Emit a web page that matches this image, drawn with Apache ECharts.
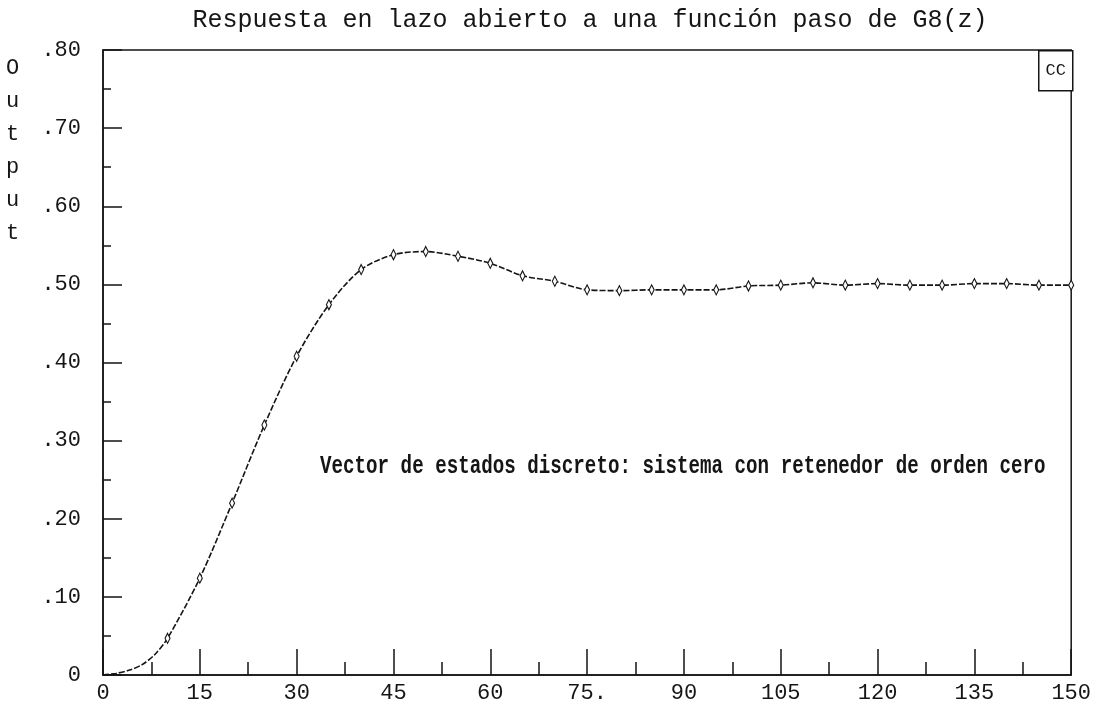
<!DOCTYPE html>
<html>
<head>
<meta charset="utf-8">
<script src="https://cdn.jsdelivr.net/npm/echarts@6/dist/echarts.min.js"></script>
<style>
  html, body { margin: 0; padding: 0; background: #fff; }
  #g8z { width: 1094px; height: 714px; }
</style>
</head>
<body>
<!-- respuesta en lazo abierto G8(z) -->
<div id="g8z"></div>
<script>
// datos
const tiempo = [0, 2, 4, 6, 8, 10, 15, 20, 25, 30, 35, 40, 45, 50, 55, 60, 65, 70, 75, 80,
  85, 90, 95, 100, 105, 110, 115, 120, 125, 130, 135, 140, 145, 150];
const salida = [0, 0.002, 0.006, 0.013, 0.026, 0.047, 0.124, 0.220, 0.320, 0.408, 0.474, 0.519,
  0.538, 0.542, 0.536, 0.527, 0.511, 0.504, 0.493, 0.492, 0.493, 0.493, 0.493, 0.498, 0.499,
  0.502, 0.499, 0.501, 0.499, 0.499, 0.501, 0.501, 0.499, 0.499];
const xTickLabels = ['0', '15', '30', '45', '60', '75.', '90', '105', '120', '135', '150'];
const yTickLabels = ['0', '.10', '.20', '.30', '.40', '.50', '.60', '.70', '.80'];

const fuente = '"Liberation Mono", "DejaVu Sans Mono", monospace';
const tinta = '#151515';

const chart = echarts.init(document.getElementById('g8z'));

const option = {
  backgroundColor: '#fff',
  animation: false,
  title: {
    text: 'Respuesta en lazo abierto a una función paso de G8(z)',
    left: 585,
    textAlign: 'center',
    top: 3,
    textStyle: { fontFamily: fuente, fontSize: 25, fontWeight: 'normal', color: tinta }
  },
  grid: {
    left: 103,
    right: 22,
    top: 50,
    bottom: 39,
    show: true,
    borderColor: tinta,
    borderWidth: 1.5
  },
  xAxis: {
    type: 'value',
    min: 0,
    max: 150,
    interval: 15,
    axisLine: { show: true, lineStyle: { color: tinta, width: 1.5 } },
    axisTick: { show: true, inside: true, length: 26, lineStyle: { color: tinta, width: 1.5 } },
    minorTick: { show: true, splitNumber: 2, length: 13, lineStyle: { color: tinta, width: 1.5 } },
    splitLine: { show: false },
    axisLabel: {
      margin: 7,
      fontFamily: fuente,
      fontSize: 22,
      color: tinta,
      formatter: (v, i) => xTickLabels[i]
    }
  },
  yAxis: {
    type: 'value',
    min: 0,
    max: 0.8,
    interval: 0.1,
    axisLine: { show: true, lineStyle: { color: tinta, width: 1.5 } },
    axisTick: { show: true, inside: true, length: 19, lineStyle: { color: tinta, width: 1.5 } },
    minorTick: { show: true, splitNumber: 2, length: 8, lineStyle: { color: tinta, width: 1.5 } },
    splitLine: { show: false },
    axisLabel: {
      margin: 22,
      fontFamily: fuente,
      fontSize: 22,
      color: tinta,
      formatter: (v, i) => yTickLabels[i]
    }
  },
  series: [
    {
      name: 'G8(z)',
      type: 'line',
      data: tiempo.map((t, i) => [t, salida[i]]),
      smooth: 0.3,
      showAllSymbol: true,
      symbol: 'diamond',
      // marcas solo cada 5 muestras
      symbolSize: (val) => (val[0] >= 10 && val[0] % 5 === 0 ? [5, 10] : 0),
      itemStyle: { color: '#fff', borderColor: tinta, borderWidth: 1.2 },
      lineStyle: { color: tinta, width: 1.6, type: [6, 2] }
    }
  ],
  graphic: [
    {
      // nombre del eje vertical
      type: 'text',
      left: 6,
      top: 52,
      style: {
        text: 'O\nu\nt\np\nu\nt',
        font: '22px ' + fuente,
        fill: tinta,
        lineHeight: 33,
        align: 'left'
      }
    },
    {
      // recuadro de leyenda
      type: 'group',
      left: 1038,
      top: 50,
      children: [
        { type: 'rect', shape: { x: 0, y: 0, width: 34, height: 40 },
          style: { fill: '#fff', stroke: tinta, lineWidth: 1.5 } },
        { type: 'text', x: 17, y: 20,
          style: { text: 'CC', font: '17px ' + fuente, fill: tinta, align: 'center', verticalAlign: 'middle' } }
      ]
    },
    {
      // texto sobreimpreso
      type: 'text',
      x: 320,
      y: 453,
      scaleX: 1.01,
      scaleY: 1.4,
      style: {
        text: 'Vector de estados discreto: sistema con retenedor de orden cero',
        font: 'bold 19px ' + fuente,
        fill: tinta
      }
    }
  ]
};

chart.setOption(option, true);
</script>
</body>
</html>
